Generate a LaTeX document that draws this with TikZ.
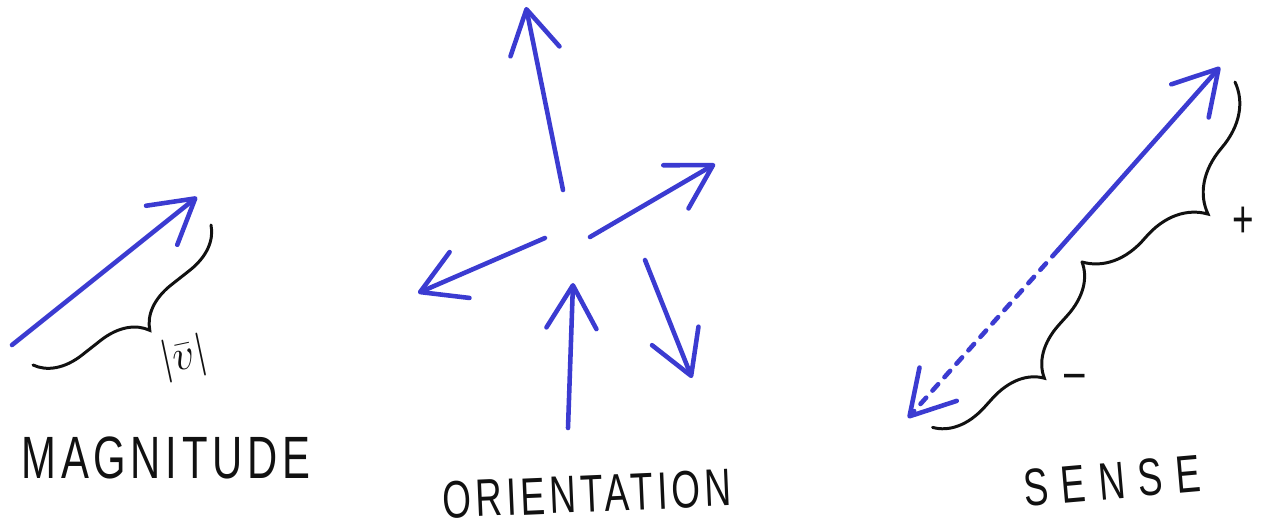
\documentclass[tikz,border=0pt]{standalone}
\usepackage{amsmath,amssymb}
\usepackage{fontspec}
\usepackage{tikz}
\usetikzlibrary{arrows.meta, calc, decorations.pathreplacing}
\newfontfamily\handfont[FakeStretch=0.7, LetterSpace=8]{Liberation Sans}
\definecolor{PenBlue}{HTML}{3B3BD1}
\definecolor{PenBlack}{HTML}{111111}

\begin{document}
\begin{tikzpicture}[x=0.02cm, y=-0.02cm,
    vec/.style={PenBlue, line width=2.6pt, line cap=round,
        -{Straight Barb[round, length=0.86cm, width=1.0cm]}},
    wave/.style={PenBlack, line width=1.7pt, line cap=round,
        decorate, decoration={brace, amplitude=#1}},
    label/.style={PenBlack, inner sep=0pt, font=\handfont\fontsize{30}{30}\selectfont}]
    \useasboundingbox (0,0) rectangle (1262,527);

    % magnitude
    \coordinate (magtail) at (12,345);
    \coordinate (magtip) at (197,197);
    \draw[vec] (magtail) -- (magtip);
    \draw[wave=0.9cm] (211,225) -- (33,365);
    \node (norm) [PenBlack, rotate=12, font=\fontsize{28}{28}\selectfont] at (184,358) {$|\bar{v}|$};
    \node (mag) [label, font=\handfont\fontsize{34}{34}\selectfont] at (166,458) {MAGNITUDE};

    % orientation
    \coordinate (up1) at (563,190);   \coordinate (up1tip) at (526,7);
    \coordinate (ne) at (590,237);    \coordinate (netip) at (715,164);
    \coordinate (w) at (545,238);     \coordinate (wtip) at (418,293);
    \coordinate (up2) at (568,428);   \coordinate (up2tip) at (573,283);
    \coordinate (se) at (645,260);    \coordinate (setip) at (692,378);
    \draw[vec] (up1) -- (up1tip);
    \draw[vec] (ne) -- (netip);
    \draw[vec] (w) -- (wtip);
    \draw[vec] (up2) -- (up2tip);
    \draw[vec] (se) -- (setip);
    \node (ori) [label, rotate=2.5] at (587,494) {ORIENTATION};

    % sense
    \coordinate (sentop) at (1220,67);
    \coordinate (senmid) at (1058,250);
    \coordinate (senbot) at (908,418);
    \draw[vec] (senmid) -- (sentop);
    \draw[vec, dash pattern=on 0.17cm off 0.19cm] (senmid) -- (senbot);
    \draw[wave=1.3cm] (1235,82) -- (1082,262);
    \draw[wave=1.0cm] (1082,262) -- (932,428);
    \node (plus) [label] at (1243,222) {+};
    \node (minus) [label] at (1075,382) {\textendash};
    \node (sen) [label, rotate=5, font=\handfont\fontsize{30}{30}\selectfont\addfontfeature{LetterSpace=25}] at (1112,481) {SENSE};
\end{tikzpicture}
\end{document}
